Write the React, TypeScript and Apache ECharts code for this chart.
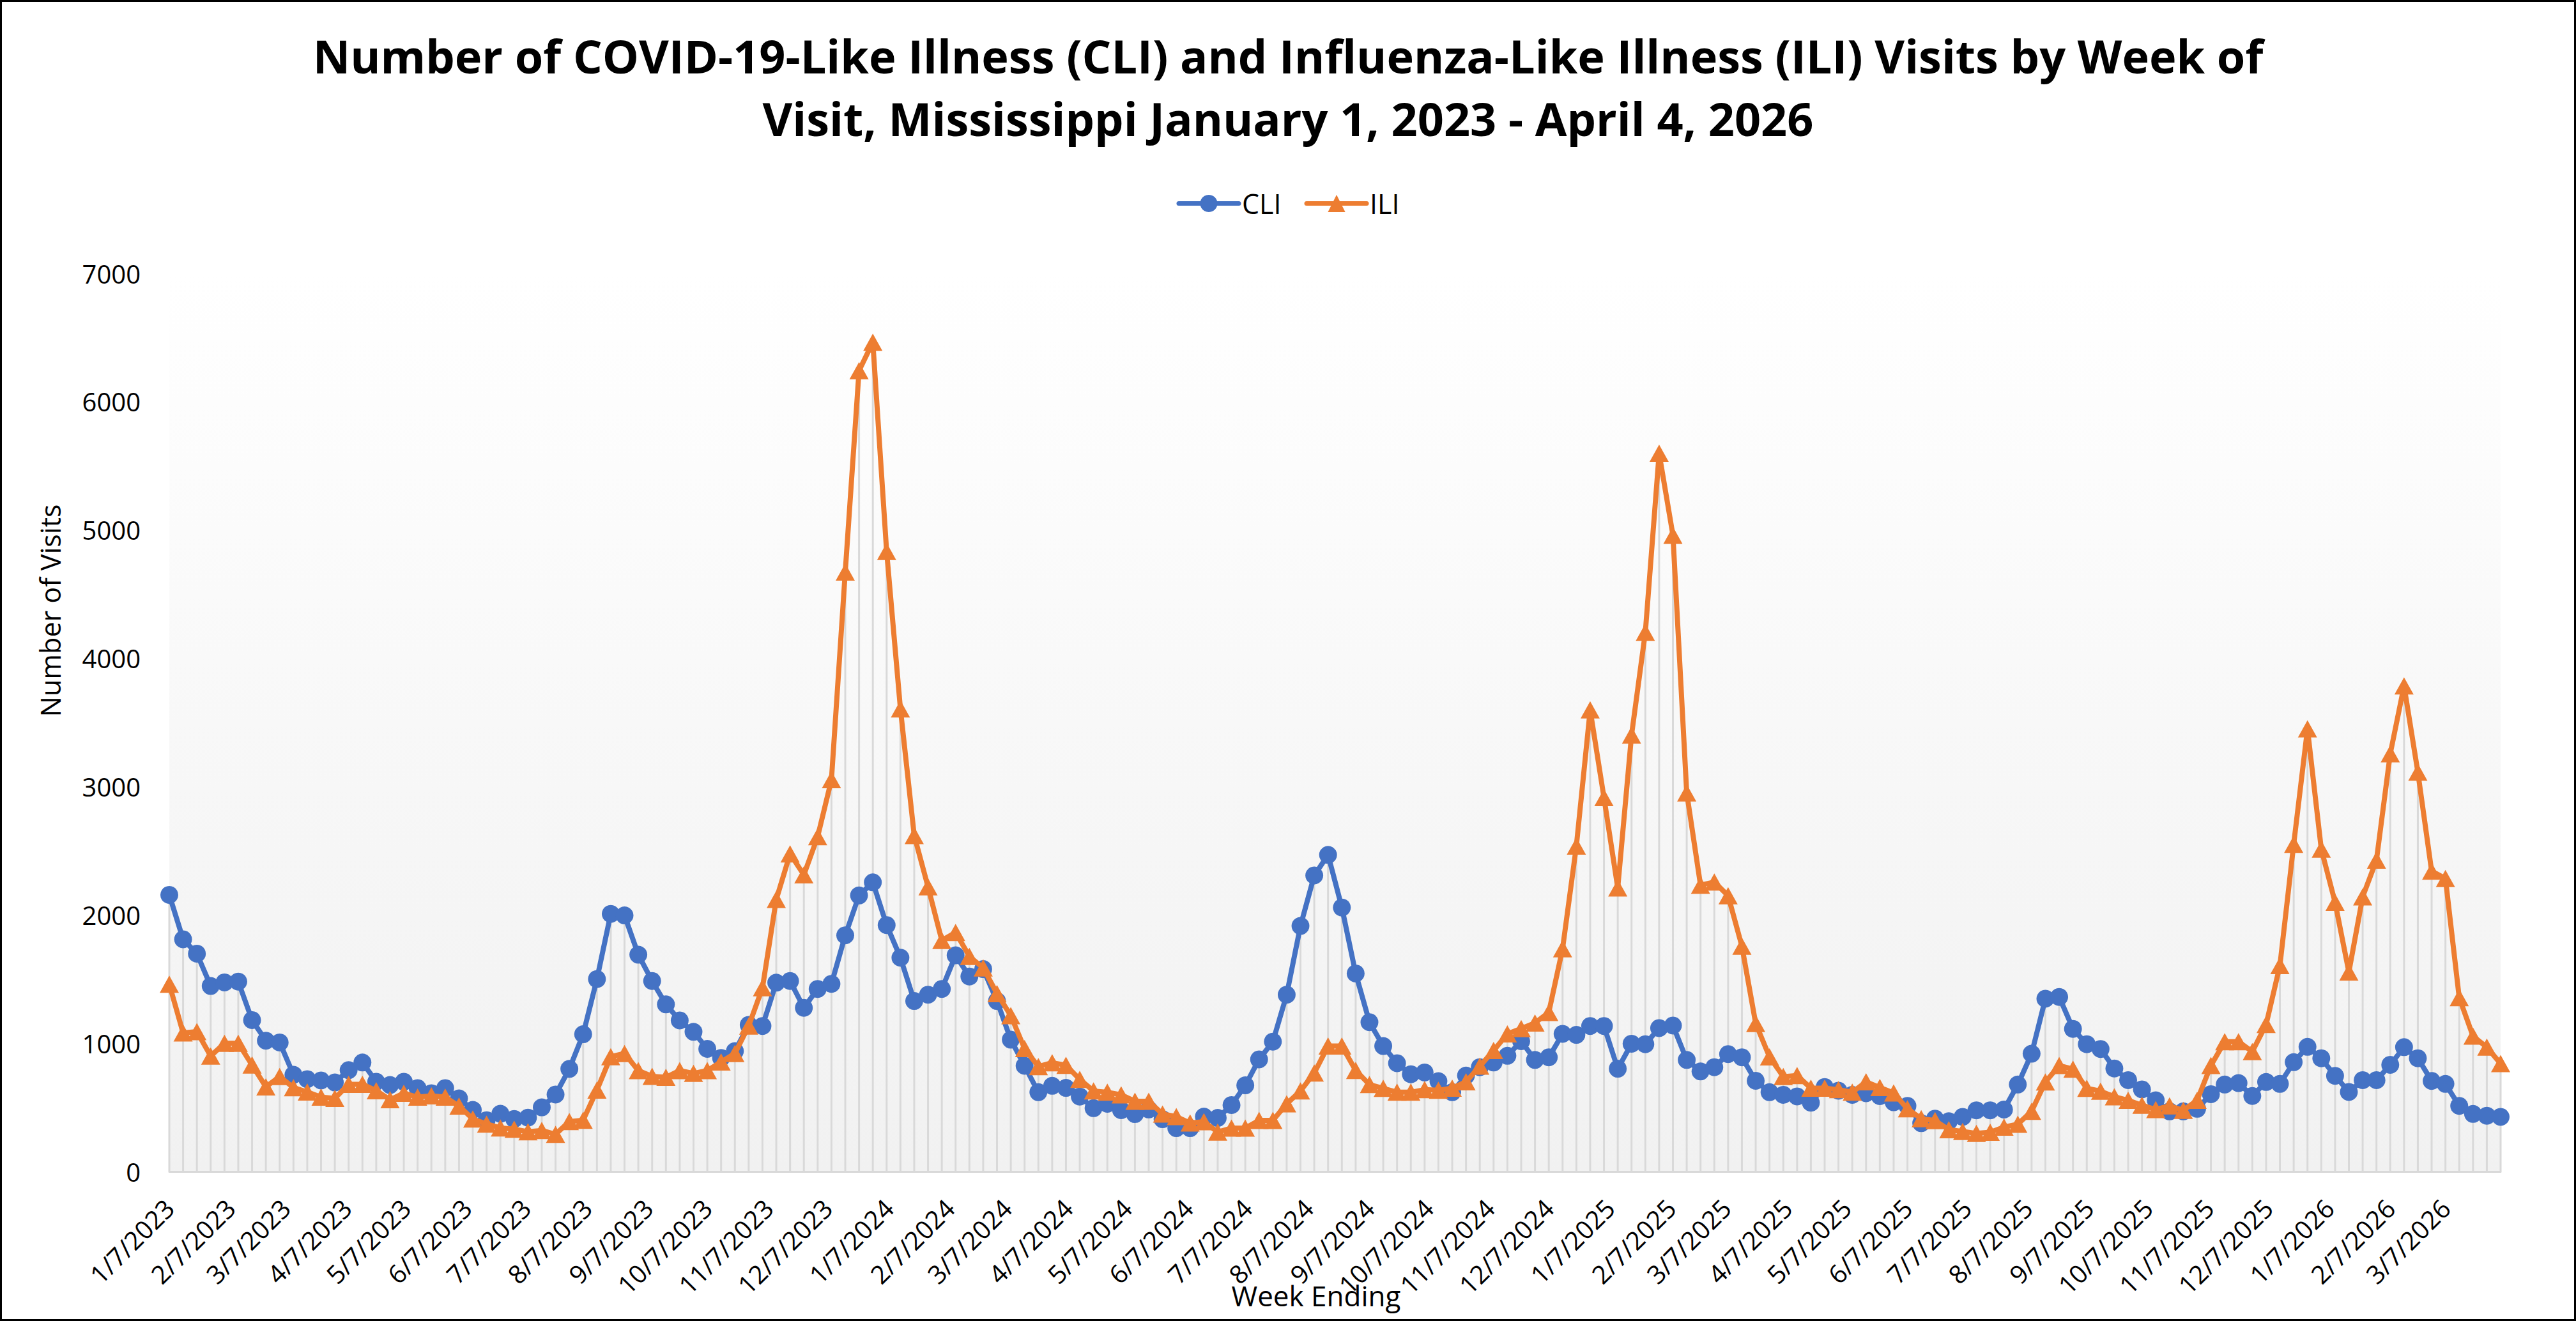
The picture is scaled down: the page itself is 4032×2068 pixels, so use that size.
import React, { useEffect, useRef } from "react";
import * as echarts from "echarts";

const FONT = "'Open Sans', 'Noto Sans', sans-serif";

const TITLE =
  "Number of COVID-19-Like Illness (CLI) and Influenza-Like Illness (ILI) Visits by Week of\nVisit, Mississippi January 1, 2023 - April 4, 2026";

const FIRST_WEEK = "1/7/2023";

const tickLabels = [
  "1/7/2023", "2/7/2023", "3/7/2023", "4/7/2023", "5/7/2023", "6/7/2023",
  "7/7/2023", "8/7/2023", "9/7/2023", "10/7/2023", "11/7/2023", "12/7/2023",
  "1/7/2024", "2/7/2024", "3/7/2024", "4/7/2024", "5/7/2024", "6/7/2024",
  "7/7/2024", "8/7/2024", "9/7/2024", "10/7/2024", "11/7/2024", "12/7/2024",
  "1/7/2025", "2/7/2025", "3/7/2025", "4/7/2025", "5/7/2025", "6/7/2025",
  "7/7/2025", "8/7/2025", "9/7/2025", "10/7/2025", "11/7/2025", "12/7/2025",
  "1/7/2026", "2/7/2026", "3/7/2026",
];

const cliValues = [
  2156, 1810, 1698, 1446, 1474, 1480, 1180, 1020, 1006, 754,
  720, 710, 694, 790, 850, 700, 674, 700, 650, 610,
  650, 570, 480, 400, 450, 410, 420, 500, 600, 800,
  1070, 1500, 2008, 1996, 1690, 1485, 1303, 1178, 1089, 956,
  885, 938, 1143, 1134, 1472, 1485, 1276, 1423, 1463, 1841,
  2152, 2254, 1921, 1667, 1329, 1378, 1423, 1685, 1520, 1578,
  1329, 1028, 824, 618, 668, 652, 584, 494, 528, 478,
  448, 484, 408, 338, 338, 428, 418, 518, 672, 874,
  1012, 1378, 1914, 2308, 2468, 2058, 1544, 1164, 978, 844,
  758, 772, 704, 618, 748, 813, 850, 902, 1016, 870,
  890, 1073, 1065, 1134, 1134, 801, 996, 992, 1118, 1138,
  870, 780, 813, 915, 890, 707, 618, 598, 585, 537,
  659, 630, 598, 610, 588, 540, 512, 377, 412, 392,
  426, 477, 477, 483, 678, 918, 1347, 1361, 1112, 992,
  955, 803, 712, 640, 555, 469, 469, 489, 603, 678,
  689, 589, 698, 683, 852, 972, 883, 746, 620, 712,
  712, 832, 969, 883, 706, 683, 512, 449, 435, 426,
];

const iliValues = [
  1460, 1080, 1090, 900, 1000, 1000, 830, 660, 740, 654,
  620, 580, 570, 680, 680, 630, 560, 610, 580, 590,
  580, 510, 410, 370, 340, 330, 310, 320, 290, 390,
  400, 635, 895, 920, 787, 742, 734, 787, 765, 787,
  854, 920, 1134, 1432, 2121, 2476, 2312, 2610, 3054, 4673,
  6242, 6464, 4833, 3606, 2619, 2219, 1801, 1863, 1676, 1587,
  1387, 1215, 958, 818, 848, 828, 718, 628, 618, 598,
  548, 548, 448, 428, 378, 388, 308, 338, 338, 398,
  398, 528, 628, 768, 978, 978, 788, 678, 648, 618,
  618, 638, 633, 650, 699, 821, 943, 1073, 1114, 1158,
  1240, 1736, 2537, 3598, 2915, 2211, 3402, 4203, 5598, 4959,
  2951, 2232, 2256, 2150, 1756, 1154, 894, 740, 748, 650,
  650, 638, 618, 699, 655, 612, 489, 412, 397, 326,
  312, 297, 306, 346, 369, 469, 698, 826, 798, 649,
  626, 583, 555, 517, 483, 512, 477, 555, 826, 1012,
  1012, 935, 1146, 1605, 2550, 3450, 2513, 2098, 1555, 2141,
  2427, 3256, 3785, 3113, 2341, 2284, 1355, 1055, 969, 841,
];

const DAY_MS = 86400000;
function parseMDY(s: string): number {
  const [m, d, y] = s.split("/").map(Number);
  return Date.UTC(y, m - 1, d);
}
const startMs = parseMDY(FIRST_WEEK);
function dayOffset(s: string): number {
  return Math.round((parseMDY(s) - startMs) / DAY_MS);
}

export default function App() {
  const ref = useRef<HTMLDivElement>(null);

  useEffect(() => {
    if (!ref.current) return;
    const chart = echarts.init(ref.current, undefined, { renderer: "svg" });

    const tickDays = tickLabels.map(dayOffset);
    const labelByDay: Record<number, string> = {};
    tickLabels.forEach((l, i) => (labelByDay[tickDays[i]] = l));
    const lastDay = (cliValues.length - 1) * 7;

    const cliData = cliValues.map((v, i) => [i * 7, v]);
    const iliData = iliValues.map((v, i) => [i * 7, v]);
    const dropData = cliValues.map((v, i) => [i * 7, Math.max(v, iliValues[i])]);

    const option: any = {
      animation: false,
      textStyle: { fontFamily: FONT, color: "#000" },
      title: {
        text: TITLE,
        left: "center",
        top: 33,
        textStyle: {
          fontFamily: FONT,
          fontSize: 72,
          fontWeight: "bold",
          color: "#000",
          lineHeight: 98,
        },
      },
      legend: {
        data: ["CLI", "ILI"],
        left: "center",
        top: 292,
        itemWidth: 94,
        itemHeight: 34,
        itemGap: 36,
        lineStyle: { width: 7, cap: "round" },
        textStyle: { fontFamily: FONT, fontSize: 43, color: "#000" },
      },
      grid: {
        left: 265,
        right: 118,
        top: 428,
        bottom: 234,
        show: true,
        borderWidth: 0,
        backgroundColor: new echarts.graphic.LinearGradient(0, 0, 0, 1, [
          { offset: 0, color: "#ffffff" },
          { offset: 1, color: "#f1f1f1" },
        ]),
      },
      xAxis: {
        type: "value",
        min: 0,
        max: lastDay,
        splitLine: { show: false },
        axisTick: { show: false },
        axisLine: { show: true, lineStyle: { color: "#d9d9d9", width: 3 } },
        axisLabel: {
          customValues: tickDays,
          rotate: 45,
          margin: 50,
          fontSize: 40,
          fontFamily: FONT,
          color: "#000",
          showMinLabel: true,
          showMaxLabel: true,
          formatter: (v: number) => labelByDay[v] ?? "",
        },
      },
      yAxis: {
        type: "value",
        min: 0,
        max: 7000,
        interval: 1000,
        splitLine: { show: false },
        axisTick: { show: false },
        axisLine: { show: false },
        axisLabel: {
          fontSize: 40,
          fontFamily: FONT,
          color: "#000",
          margin: 45,
          formatter: (v: number) => String(v),
        },
      },
      series: [
        {
          name: "drop",
          type: "bar",
          data: dropData,
          barWidth: 3,
          silent: true,
          itemStyle: { color: "#d9d9d9" },
          z: 1,
        },
        {
          name: "CLI",
          type: "line",
          data: cliData,
          symbol: "circle",
          symbolSize: 28,
          lineStyle: { color: "#4472c4", width: 8 },
          itemStyle: { color: "#4472c4" },
          z: 3,
        },
        {
          name: "ILI",
          type: "line",
          data: iliData,
          symbol: "triangle",
          symbolSize: [30, 27],
          lineStyle: { color: "#ed7d31", width: 8 },
          itemStyle: { color: "#ed7d31" },
          z: 4,
        },
      ],
      graphic: [
        {
          type: "rect",
          shape: { x: 1.5, y: 1.5, width: 4029, height: 2065 },
          style: { fill: "none", stroke: "#000", lineWidth: 3 },
          silent: true,
          z: 100,
        },
        {
          type: "text",
          x: 78,
          y: 956,
          rotation: Math.PI / 2,
          style: {
            text: "Number of Visits",
            font: `43px ${FONT}`,
            fill: "#000",
            align: "center",
            verticalAlign: "middle",
            textAlign: "center",
            textVerticalAlign: "middle",
          },
        },
        {
          type: "text",
          x: 2060,
          y: 2028,
          style: {
            text: "Week Ending",
            font: `44px ${FONT}`,
            fill: "#000",
            align: "center",
            verticalAlign: "middle",
            textAlign: "center",
            textVerticalAlign: "middle",
          },
        },
      ],
    };

    chart.setOption(option);
    return () => chart.dispose();
  }, []);

  return (
    <div
      ref={ref}
      style={{ position: "absolute", left: 0, top: 0, width: 4032, height: 2068, background: "#fff" }}
    />
  );
}
